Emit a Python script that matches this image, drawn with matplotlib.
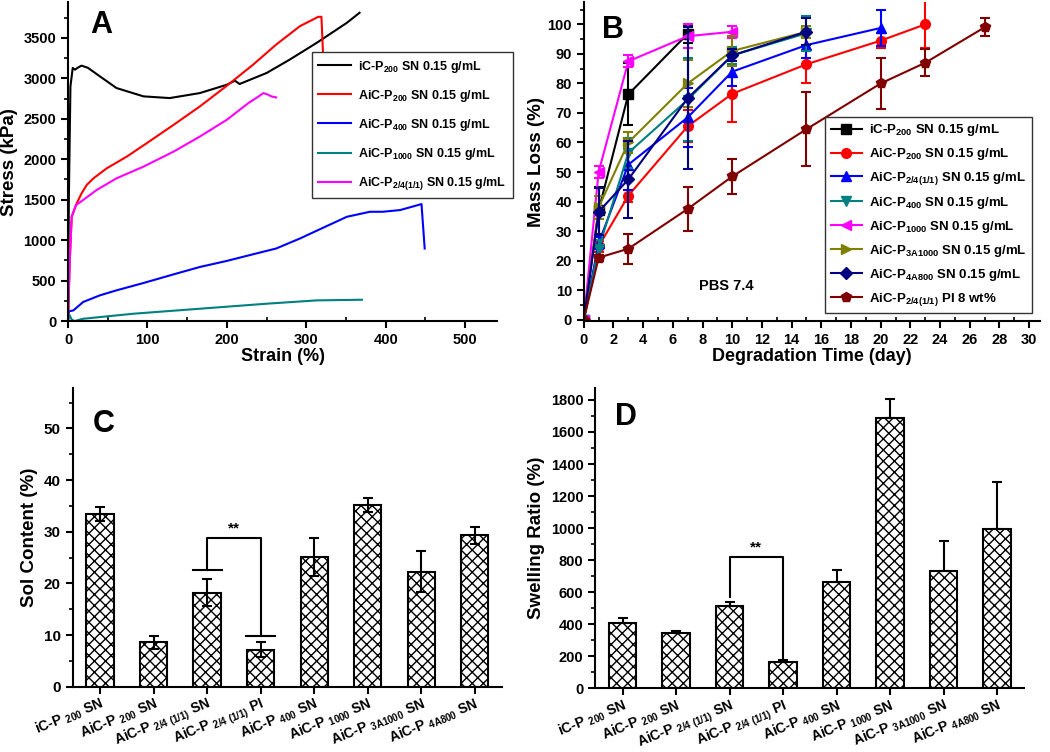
import matplotlib
matplotlib.use("Agg")
import matplotlib.pyplot as plt
import numpy as np
from matplotlib.ticker import MultipleLocator
from matplotlib.lines import Line2D

plt.rcParams['font.family'] = ['Liberation Sans', 'DejaVu Sans']
plt.rcParams['font.weight'] = 'bold'
plt.rcParams['axes.labelweight'] = 'bold'
plt.rcParams['mathtext.fontset'] = 'custom'
plt.rcParams['mathtext.rm'] = 'Liberation Sans:bold'
plt.rcParams['mathtext.bf'] = 'Liberation Sans:bold'
plt.rcParams['mathtext.it'] = 'Liberation Sans:bold'
plt.rcParams['mathtext.default'] = 'rm'
plt.rcParams['hatch.linewidth'] = 1.0

# ---------------- Panel A data (stress-strain) ----------------
a_labels = [r'iC-P$_{200}$ SN 0.15 g/mL', r'AiC-P$_{200}$ SN 0.15 g/mL',
            r'AiC-P$_{400}$ SN 0.15 g/mL', r'AiC-P$_{1000}$ SN 0.15 g/mL',
            r'AiC-P$_{2/4(1/1)}$ SN 0.15 g/mL']
a_colors = ['#000000', '#ff0000', '#0000ff', '#008080', '#ff00ff']

iC200_x = [0, 1, 3, 5.9, 8.8, 12, 17, 25, 40, 61, 95, 128, 166, 200, 210, 216, 250, 279, 313, 351, 367]
iC200_y = [0, 1500, 2900, 3128, 3107, 3130, 3157, 3130, 3025, 2880, 2777, 2756, 2818, 2921, 2971, 2930, 3066, 3231, 3438, 3686, 3810]
AiC200_x = [0, 2, 4.6, 10.9, 17, 23.5, 32, 48.7, 74, 99, 133, 166, 200, 233, 262, 292, 315, 319, 321]
AiC200_y = [0, 700, 1289, 1455, 1578, 1682, 1764, 1888, 2033, 2198, 2426, 2653, 2909, 3169, 3417, 3645, 3760, 3760, 3314]
AiC400_x = [0, 1, 6.7, 19, 40, 61, 95, 133, 166, 200, 233, 262, 292, 321, 351, 380, 396, 418, 445, 449]
AiC400_y = [0, 120, 132, 236, 318, 380, 471, 578, 669, 744, 826, 897, 1021, 1153, 1289, 1351, 1351, 1372, 1446, 897]
AiC1000_x = [0, 1, 4.6, 8, 19, 82, 166, 250, 313, 370]
AiC1000_y = [0, 90, 20, 0, 29, 91, 153, 215, 256, 264]
AiC24_x = [0, 2, 4.6, 10, 19, 36, 61, 95, 133, 166, 200, 227, 240, 246, 252, 256, 262]
AiC24_y = [0, 700, 1290, 1434, 1496, 1620, 1764, 1909, 2095, 2281, 2488, 2694, 2777, 2818, 2797, 2777, 2764]

# ---------------- Panel B data (degradation) ----------------
b_labels = [r'iC-P$_{200}$ SN 0.15 g/mL', r'AiC-P$_{200}$ SN 0.15 g/mL',
            r'AiC-P$_{2/4(1/1)}$ SN 0.15 g/mL', r'AiC-P$_{400}$ SN 0.15 g/mL',
            r'AiC-P$_{1000}$ SN 0.15 g/mL', r'AiC-P$_{3A1000}$ SN 0.15 g/mL',
            r'AiC-P$_{4A800}$ SN 0.15 g/mL', r'AiC-P$_{2/4(1/1)}$ PI 8 wt%']
b_colors = ['#000000', '#ff0000', '#0000ff', '#008080', '#ff00ff', '#808000', '#000080', '#800000']
b_markers = ['s', 'o', '^', 'v', '<', '>', 'D', 'p']

t_iC200 = [0, 1, 3, 7]
m_iC200 = [0, 37, 76.3, 96.8]
e_iC200 = [0, 8, 10.5, 3]
t_AiC200 = [0, 1, 3, 7, 10, 15, 20, 23]
m_AiC200 = [0, 24.8, 42, 65.5, 76.5, 86.5, 94.5, 100]
e_AiC200 = [0, 2, 2, 5.5, 9.5, 6.5, 2.5, 8]
t_AiC24 = [0, 1, 3, 7, 10, 15, 20]
m_AiC24 = [0, 25.9, 52.5, 68.5, 84, 93, 98.8]
e_AiC24 = [0, 2, 8.5, 10, 5, 4.5, 6]
t_AiC400 = [0, 1, 3, 7, 10, 15]
m_AiC400 = [0, 24, 56.5, 74.5, 89.5, 97]
e_AiC400 = [0, 3, 5, 14, 3, 6]
t_AiC1000 = [0, 1, 3, 7, 10]
m_AiC1000 = [0, 50, 87.5, 96, 97.5]
e_AiC1000 = [0, 2, 2, 4, 2]
t_AiC3A = [0, 1, 3, 7, 10, 15]
m_AiC3A = [0, 38, 60, 80, 91, 97.5]
e_AiC3A = [0, 4, 3.5, 8, 5, 2]
t_AiC4A = [0, 1, 3, 7, 10, 15]
m_AiC4A = [0, 36.5, 47.5, 75, 89.5, 97.5]
e_AiC4A = [0, 8, 13, 24, 2, 4.5]
t_PI = [0, 1, 3, 7, 10, 15, 20, 23, 27]
m_PI = [0, 21, 24, 37.5, 48.5, 64.5, 80, 87, 99]
e_PI = [0, 1, 5, 7.5, 6, 12.5, 8.5, 4.5, 3]

# ---------------- Panels C & D data ----------------
bar_labels = [r'iC-P $_{200}$ SN', r'AiC-P $_{200}$ SN', r'AiC-P $_{2/4\ (1/1)}$ SN',
              r'AiC-P $_{2/4\ (1/1)}$ PI', r'AiC-P $_{400}$ SN', r'AiC-P $_{1000}$ SN',
              r'AiC-P $_{3A1000}$ SN', r'AiC-P $_{4A800}$ SN']
sol_content = [33.4, 8.6, 18.2, 7.2, 25.1, 35.2, 22.3, 29.3]
sol_err = [1.4, 1.2, 2.6, 1.5, 3.7, 1.4, 4.0, 1.7]
swelling = [410, 347, 514, 166, 666, 1690, 732, 993]
swelling_err = [27, 13, 27, 11, 73, 114, 188, 297]

fig = plt.figure(figsize=(10.5, 7.52), dpi=100)
axA = fig.add_axes([0.0648, 0.573, 0.4085, 0.424])
axB = fig.add_axes([0.556, 0.573, 0.434, 0.424])
axC = fig.add_axes([0.0692, 0.0868, 0.4085, 0.397])
axD = fig.add_axes([0.567, 0.0847, 0.408, 0.399])

def style(ax):
    for s in ['top', 'right']:
        ax.spines[s].set_visible(False)
    for s in ['left', 'bottom']:
        ax.spines[s].set_linewidth(1.5)
    ax.tick_params(which='major', direction='out', length=5, width=1.5, labelsize=10.5)
    ax.tick_params(which='minor', direction='out', length=3, width=1.2)

# ---- A ----
style(axA)
for (xs, ys), c, lab in zip([(iC200_x, iC200_y), (AiC200_x, AiC200_y), (AiC400_x, AiC400_y),
                              (AiC1000_x, AiC1000_y), (AiC24_x, AiC24_y)], a_colors, a_labels):
    axA.plot(xs, ys, color=c, lw=1.5, label=lab)
axA.set_xlim(0, 540)
axA.set_ylim(0, 3940)
axA.xaxis.set_major_locator(MultipleLocator(100))
axA.xaxis.set_minor_locator(MultipleLocator(50))
axA.yaxis.set_major_locator(MultipleLocator(500))
axA.yaxis.set_minor_locator(MultipleLocator(250))
axA.tick_params(axis='x', which='minor', direction='in')
axA.set_xlabel('Strain (%)', fontsize=13, labelpad=1)
axA.set_ylabel('Stress (kPa)', fontsize=13.5, labelpad=4)
axA.text(0.051, 0.975, 'A', transform=axA.transAxes, fontsize=22, fontweight='bold', ha='left', va='top')
legA = axA.legend(loc='upper left', bbox_to_anchor=(0.569, 0.843), fontsize=9, frameon=True,
                  fancybox=False, edgecolor='#333333', framealpha=1, handlelength=2.6,
                  labelspacing=1.05, borderpad=0.5, handletextpad=0.6, borderaxespad=0)
legA.get_frame().set_linewidth(1.0)

# ---- B ----
style(axB)
b_series = [(t_iC200, m_iC200, e_iC200), (t_AiC200, m_AiC200, e_AiC200), (t_AiC24, m_AiC24, e_AiC24),
            (t_AiC400, m_AiC400, e_AiC400), (t_AiC1000, m_AiC1000, e_AiC1000), (t_AiC3A, m_AiC3A, e_AiC3A),
            (t_AiC4A, m_AiC4A, e_AiC4A), (t_PI, m_PI, e_PI)]
handles = []
for (t, m, e), c, mk, lab in zip(b_series, b_colors, b_markers, b_labels):
    ms = 6 if mk == 'D' else 7
    axB.errorbar(t[1:], m[1:], yerr=e[1:], fmt='none', ecolor=c, elinewidth=1.5,
                 capsize=3.5, capthick=1.5)
    axB.plot(t, m, color=c, marker=mk, ms=ms, lw=1.5)
    handles.append(Line2D([], [], color=c, marker=mk, ms=ms, lw=1.5, label=lab))
axB.set_xlim(0, 30.7)
axB.set_ylim(-0.5, 107.5)
axB.xaxis.set_major_locator(MultipleLocator(2))
axB.xaxis.set_minor_locator(MultipleLocator(1))
axB.yaxis.set_major_locator(MultipleLocator(10))
axB.yaxis.set_minor_locator(MultipleLocator(5))
axB.tick_params(axis='x', which='minor', direction='in')
axB.set_xlabel('Degradation Time (day)', fontsize=13, labelpad=1)
axB.set_ylabel('Mass Loss (%)', fontsize=13.5, labelpad=2)
axB.text(0.04, 0.96, 'B', transform=axB.transAxes, fontsize=22, fontweight='bold', ha='left', va='top')
axB.text(9.6, 11.3, 'PBS 7.4', fontsize=10.5, fontweight='bold', ha='center', va='center')
legB = axB.legend(handles=handles, loc='upper left', bbox_to_anchor=(0.53, 0.64), fontsize=9.5,
                  frameon=True, fancybox=False, edgecolor='#333333', framealpha=1, handlelength=2.4,
                  labelspacing=0.6, borderpad=0.4, handletextpad=0.5, borderaxespad=0)
legB.get_frame().set_linewidth(1.0)

# ---- C & D ----
pos = np.arange(1, len(bar_labels) + 1)

def bars(ax, vals, errs, lower):
    ax.bar(pos, vals, width=0.51, color='white', edgecolor='black', linewidth=1.5, hatch='xxx', zorder=2)
    if lower:
        yerr = errs
    else:
        yerr = [np.zeros(len(errs)), errs]
    ax.errorbar(pos, vals, yerr=yerr, fmt='none', ecolor='black', elinewidth=1.5, capsize=3.5,
                capthick=1.5, zorder=3)
    ax.set_xlim(0.49, 8.5)
    ax.set_xticks(pos)
    ax.set_xticklabels(bar_labels, rotation=22, ha='right', va='top', rotation_mode='anchor',
                       fontsize=10)
    ax.tick_params(axis='x', pad=1)

style(axC)
bars(axC, sol_content, sol_err, True)
axC.set_ylim(0, 57.8)
axC.yaxis.set_major_locator(MultipleLocator(10))
axC.yaxis.set_minor_locator(MultipleLocator(5))
axC.tick_params(axis='y', labelsize=11)
axC.set_ylabel('Sol Content (%)', fontsize=13.5, labelpad=4)
axC.text(0.047, 0.93, 'C', transform=axC.transAxes, fontsize=22, fontweight='bold', ha='left', va='top')
# significance bracket C
axC.plot([3, 3, 4, 4], [22.6, 28.7, 28.7, 9.8], color='black', lw=1.5, zorder=4)
axC.plot([2.73, 3.28], [22.6, 22.6], color='black', lw=1.5, zorder=4)
axC.plot([3.73, 4.27], [9.8, 9.8], color='black', lw=1.5, zorder=4)
axC.text(3.5, 29.2, '**', fontsize=11, fontweight='bold', ha='center', va='bottom')

style(axD)
bars(axD, swelling, swelling_err, False)
axD.set_ylim(0, 1873)
axD.yaxis.set_major_locator(MultipleLocator(200))
axD.yaxis.set_minor_locator(MultipleLocator(100))
axD.set_ylabel('Swelling Ratio (%)', fontsize=13.5, labelpad=4)
axD.text(0.047, 0.955, 'D', transform=axD.transAxes, fontsize=22, fontweight='bold', ha='left', va='top')
axD.plot([3, 3, 4, 4], [572, 822, 822, 177], color='black', lw=1.5, zorder=4)
axD.text(3.5, 835, '**', fontsize=11, fontweight='bold', ha='center', va='bottom')

fig.savefig('out.png', dpi=100)
